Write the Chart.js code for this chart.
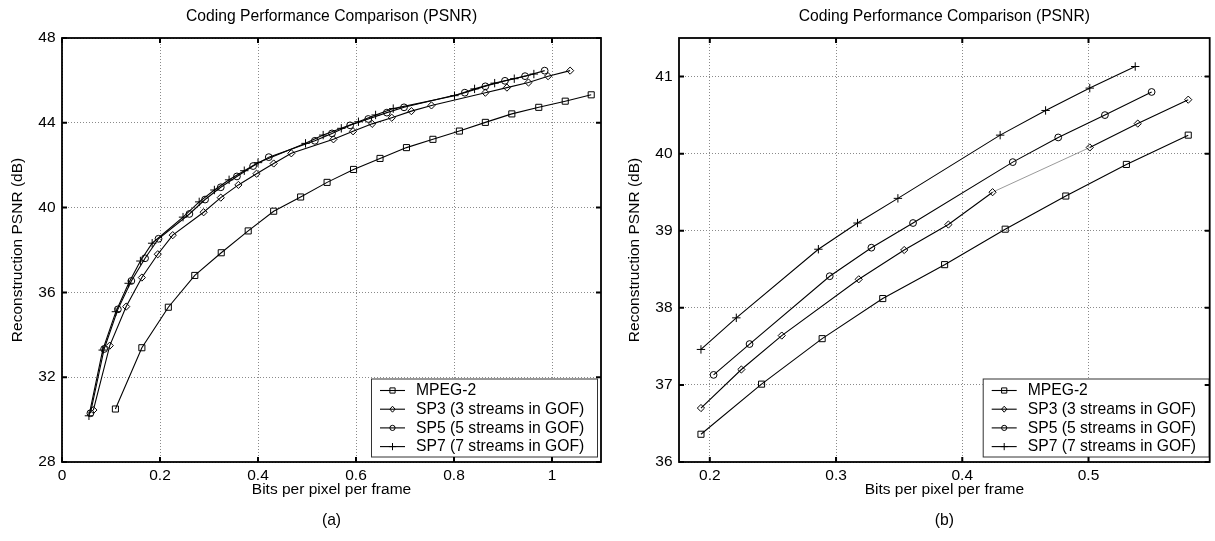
<!DOCTYPE html>
<html>
<head>
<meta charset="utf-8">
<script src="https://cdn.jsdelivr.net/npm/chart.js@4.4.1/dist/chart.umd.min.js"></script>
<style>
  html, body { margin: 0; padding: 0; background: #fff; }
  #wrap { position: relative; width: 1215px; height: 541px; overflow: hidden; }
  canvas { position: absolute; top: 0; }
  #ca { left: 0; }
  #cb { left: 607px; }
</style>
</head>
<body>
<div id="wrap">
  <canvas id="ca" width="607" height="541"></canvas>
  <canvas id="cb" width="608" height="541"></canvas>
</div>
<script>
// ---------- shared labels ----------
const chartTitle = 'Coding Performance Comparison (PSNR)';
const xTitle = 'Bits per pixel per frame';
const yTitle = 'Reconstruction PSNR (dB)';
const seriesNames = ['MPEG-2', 'SP3 (3 streams in GOF)', 'SP5 (5 streams in GOF)', 'SP7 (7 streams in GOF)'];

// ---------- panel (a) ----------
const a_xTicks = [0, 0.2, 0.4, 0.6, 0.8, 1];
const a_xTickLabels = ['0', '0.2', '0.4', '0.6', '0.8', '1'];
const a_yTicks = [28, 32, 36, 40, 44, 48];
const a_yTickLabels = ['28', '32', '36', '40', '44', '48'];

const a_mpeg2_x = [0.109, 0.163, 0.217, 0.271, 0.325, 0.380, 0.432, 0.487, 0.541, 0.595, 0.649, 0.703, 0.757, 0.811, 0.864, 0.918, 0.973, 1.027, 1.080];
const a_mpeg2_y = [30.5, 33.39, 35.3, 36.8, 37.87, 38.9, 39.83, 40.5, 41.19, 41.8, 42.32, 42.83, 43.22, 43.61, 44.02, 44.42, 44.73, 45.02, 45.32];

const a_sp3_x = [0.064, 0.0975, 0.131, 0.163, 0.1955, 0.226, 0.289, 0.324, 0.36, 0.397, 0.432, 0.468, 0.554, 0.594, 0.633, 0.673, 0.713, 0.754, 0.864, 0.908, 0.952, 0.992, 1.037];
const a_sp3_y = [30.45, 33.49, 35.33, 36.7, 37.8, 38.7, 39.78, 40.47, 41.07, 41.6, 42.08, 42.56, 43.22, 43.6, 43.95, 44.24, 44.55, 44.82, 45.42, 45.66, 45.9, 46.2, 46.46];

const a_sp5_x = [0.058, 0.086, 0.114, 0.1415, 0.1695, 0.197, 0.26, 0.292, 0.324, 0.357, 0.39, 0.422, 0.516, 0.551, 0.588, 0.625, 0.663, 0.698, 0.822, 0.864, 0.904, 0.945, 0.985];
const a_sp5_y = [30.3, 33.33, 35.2, 36.54, 37.61, 38.53, 39.7, 40.38, 40.96, 41.47, 41.96, 42.38, 43.15, 43.5, 43.88, 44.18, 44.48, 44.73, 45.42, 45.72, 45.98, 46.2, 46.46];

const a_sp7_x = [0.055, 0.083, 0.110, 0.136, 0.160, 0.184, 0.247, 0.28, 0.311, 0.341, 0.372, 0.4, 0.497, 0.533, 0.570, 0.605, 0.640, 0.676, 0.801, 0.842, 0.883, 0.923, 0.963];
const a_sp7_y = [30.18, 33.28, 35.09, 36.43, 37.48, 38.32, 39.55, 40.27, 40.83, 41.31, 41.74, 42.12, 43.03, 43.42, 43.74, 44.05, 44.37, 44.67, 45.28, 45.6, 45.87, 46.08, 46.3];

// ---------- panel (b) ----------
const b_xTicks = [0.2, 0.3, 0.4, 0.5];
const b_xTickLabels = ['0.2', '0.3', '0.4', '0.5'];
const b_yTicks = [36, 37, 38, 39, 40, 41];
const b_yTickLabels = ['36', '37', '38', '39', '40', '41'];

const b_mpeg2_x = [0.193, 0.241, 0.289, 0.337, 0.386, 0.434, 0.482, 0.530, 0.579];
const b_mpeg2_y = [36.36, 37.01, 37.6, 38.12, 38.56, 39.02, 39.45, 39.86, 40.24];

const b_sp3_x = [0.193, 0.225, 0.257, 0.318, 0.354, 0.389, 0.424, 0.501, 0.539, 0.579];
const b_sp3_y = [36.7, 37.2, 37.64, 38.37, 38.75, 39.08, 39.5, 40.08, 40.39, 40.7];

const b_sp5_x = [0.203, 0.2315, 0.295, 0.328, 0.361, 0.44, 0.476, 0.513, 0.55];
const b_sp5_y = [37.13, 37.53, 38.41, 38.78, 39.1, 39.89, 40.21, 40.5, 40.8];

const b_sp7_x = [0.193, 0.221, 0.286, 0.317, 0.349, 0.43, 0.466, 0.501, 0.537];
const b_sp7_y = [37.46, 37.87, 38.76, 39.1, 39.42, 40.24, 40.56, 40.85, 41.13];

// ---------- styling ----------
const FONT = "'Liberation Sans', Arial, Helvetica, sans-serif";
const markerStyles = ['rect', 'rectRot', 'circle', 'cross'];
const markerRadii = [4.3, 3.6, 3.4, 4.2];

function pts(xs, ys) { return xs.map((x, i) => ({ x: x, y: ys[i] })); }

function makeDatasets(series, thinSegment) {
  return series.map((s, i) => {
    const ds = {
      label: seriesNames[i],
      data: pts(s[0], s[1]),
      showLine: true,
      borderColor: '#000',
      borderWidth: 1.1,
      tension: 0,
      pointStyle: markerStyles[i],
      pointRadius: markerRadii[i],
      pointHoverRadius: markerRadii[i],
      pointBorderColor: '#000',
      pointBorderWidth: 1,
      pointBackgroundColor: 'rgba(0,0,0,0)',
      clip: 4
    };
    if (thinSegment && thinSegment.series === i) {
      ds.segment = {
        borderWidth: c => c.p0DataIndex === thinSegment.index ? 0.6 : 1.1,
        borderColor: c => c.p0DataIndex === thinSegment.index ? '#555' : '#000'
      };
    }
    return ds;
  });
}

// frame with inward ticks on all four sides (MATLAB look)
const framePlugin = {
  id: 'matFrame',
  afterDraw(chart) {
    const { ctx, chartArea: ca } = chart;
    const xs = chart.scales.x, ys = chart.scales.y;
    ctx.save();
    ctx.strokeStyle = '#000';
    ctx.lineWidth = 1.8;
    ctx.strokeRect(ca.left, ca.top, ca.right - ca.left, ca.bottom - ca.top);
    ctx.lineWidth = 2;
    const L = 5;
    ctx.beginPath();
    xs.ticks.forEach(t => {
      const px = xs.getPixelForValue(t.value);
      ctx.moveTo(px, ca.bottom); ctx.lineTo(px, ca.bottom - L);
      ctx.moveTo(px, ca.top); ctx.lineTo(px, ca.top + L);
    });
    ys.ticks.forEach(t => {
      const py = ys.getPixelForValue(t.value);
      ctx.moveTo(ca.left, py); ctx.lineTo(ca.left + L, py);
      ctx.moveTo(ca.right, py); ctx.lineTo(ca.right - L, py);
    });
    ctx.stroke();
    ctx.restore();
  }
};

function drawMarker(ctx, style, x, y, r) {
  ctx.beginPath();
  if (style === 'rect') {
    ctx.rect(x - r, y - r, 2 * r, 2 * r);
  } else if (style === 'rectRot') {
    ctx.moveTo(x, y - r * 1.15); ctx.lineTo(x + r, y); ctx.lineTo(x, y + r * 1.15); ctx.lineTo(x - r, y); ctx.closePath();
  } else if (style === 'circle') {
    ctx.arc(x, y, r, 0, Math.PI * 2);
  } else if (style === 'cross') {
    ctx.moveTo(x - r, y); ctx.lineTo(x + r, y);
    ctx.moveTo(x, y - r); ctx.lineTo(x, y + r);
  }
  ctx.stroke();
}

// MATLAB-style legend box inside the axes, lower right
const legendPlugin = {
  id: 'matLegend',
  afterDatasetsDraw(chart, args, opts) {
    const { ctx, chartArea: ca } = chart;
    const w = opts.width, h = opts.height;
    const x0 = ca.right - opts.right - w;
    const y0 = ca.bottom - opts.bottom - h;
    ctx.save();
    ctx.fillStyle = '#fff';
    ctx.fillRect(x0, y0, w, h);
    ctx.strokeStyle = '#333';
    ctx.lineWidth = 1;
    ctx.strokeRect(x0 + 0.5, y0 + 0.5, w - 1, h - 1);
    ctx.font = '15.7px ' + FONT;
    ctx.textBaseline = 'middle';
    ctx.textAlign = 'left';
    chart.data.datasets.forEach((ds, i) => {
      const y = y0 + 12 + i * 18.7;
      ctx.strokeStyle = '#000';
      ctx.lineWidth = 1.1;
      ctx.beginPath();
      ctx.moveTo(x0 + 9, y); ctx.lineTo(x0 + 34, y);
      ctx.stroke();
      ctx.lineWidth = 1;
      drawMarker(ctx, ds.pointStyle, x0 + 21.5, y, [2.6, 2.6, 2.6, 3.6][i]);
      ctx.fillStyle = '#000';
      ctx.fillText(ds.label, x0 + 45, y + 0.5);
    });
    ctx.restore();
  }
};

function makeChart(canvasId, cfg) {
  return new Chart(document.getElementById(canvasId), {
    type: 'scatter',
    data: { datasets: makeDatasets(cfg.series, cfg.thin) },
    plugins: [legendPlugin, framePlugin],
    options: {
      responsive: false,
      animation: false,
      devicePixelRatio: 1,
      events: [],
      layout: { padding: { left: 0, right: cfg.padRight, top: 0, bottom: 0 } },
      plugins: {
        legend: { display: false },
        tooltip: { enabled: false },
        title: {
          display: true, text: chartTitle, fullSize: false, color: '#000',
          font: { family: FONT, size: 15.7, weight: 'normal' },
          padding: { top: 7.4, bottom: 11.76 }
        },
        subtitle: {
          display: true, text: cfg.panel, position: 'bottom', fullSize: false, color: '#000',
          font: { family: FONT, size: 15.7, weight: 'normal' },
          padding: { top: 2, bottom: 10.6 }
        },
        matLegend: { width: 227, height: 79, right: cfg.legendRight, bottom: 4.5 }
      },
      scales: {
        x: {
          type: 'linear', min: cfg.xMin, max: cfg.xMax,
          afterBuildTicks: s => { s.ticks = cfg.xTicks.map(v => ({ value: v })); },
          afterFit: s => { s.height = 47.56; },
          ticks: {
            color: '#000', padding: 4, maxRotation: 0, autoSkip: false,
            font: { family: FONT, size: 15.5 },
            callback: (v, i) => cfg.xTickLabels[i]
          },
          grid: { color: '#8a8a8a', lineWidth: 1, drawTicks: false },
          border: { display: false, dash: [1, 2] },
          title: {
            display: true, text: xTitle, color: '#000',
            font: { family: FONT, size: 15.5 },
            padding: { top: 0, bottom: 10.1 }
          }
        },
        y: {
          type: 'linear', min: cfg.yMin, max: cfg.yMax,
          afterBuildTicks: s => { s.ticks = cfg.yTicks.map(v => ({ value: v })); },
          afterFit: s => { s.width = cfg.yAxisWidth; },
          ticks: {
            color: '#000', padding: 6.5, autoSkip: false,
            font: { family: FONT, size: 15.5 },
            callback: (v, i) => cfg.yTickLabels[i]
          },
          grid: { color: '#8a8a8a', lineWidth: 1, drawTicks: false },
          border: { display: false, dash: [1, 2] },
          title: {
            display: true, text: yTitle, color: '#000',
            font: { family: FONT, size: 15.5 },
            padding: { top: cfg.yTitlePad, bottom: 0 }
          }
        }
      }
    }
  });
}

makeChart('ca', {
  series: [[a_mpeg2_x, a_mpeg2_y], [a_sp3_x, a_sp3_y], [a_sp5_x, a_sp5_y], [a_sp7_x, a_sp7_y]],
  thin: null,
  panel: '(a)',
  xMin: 0, xMax: 1.1, yMin: 28, yMax: 48,
  xTicks: a_xTicks, xTickLabels: a_xTickLabels,
  yTicks: a_yTicks, yTickLabels: a_yTickLabels,
  yAxisWidth: 62, yTitlePad: 8.6, padRight: 6, legendRight: 3
});

makeChart('cb', {
  series: [[b_mpeg2_x, b_mpeg2_y], [b_sp3_x, b_sp3_y], [b_sp5_x, b_sp5_y], [b_sp7_x, b_sp7_y]],
  thin: { series: 1, index: 6 },
  panel: '(b)',
  xMin: 0.1756, xMax: 0.596, yMin: 36, yMax: 41.5,
  xTicks: b_xTicks, xTickLabels: b_xTickLabels,
  yTicks: b_yTicks, yTickLabels: b_yTickLabels,
  yAxisWidth: 72, yTitlePad: 18.1, padRight: 2, legendRight: 0
});
</script>
</body>
</html>
